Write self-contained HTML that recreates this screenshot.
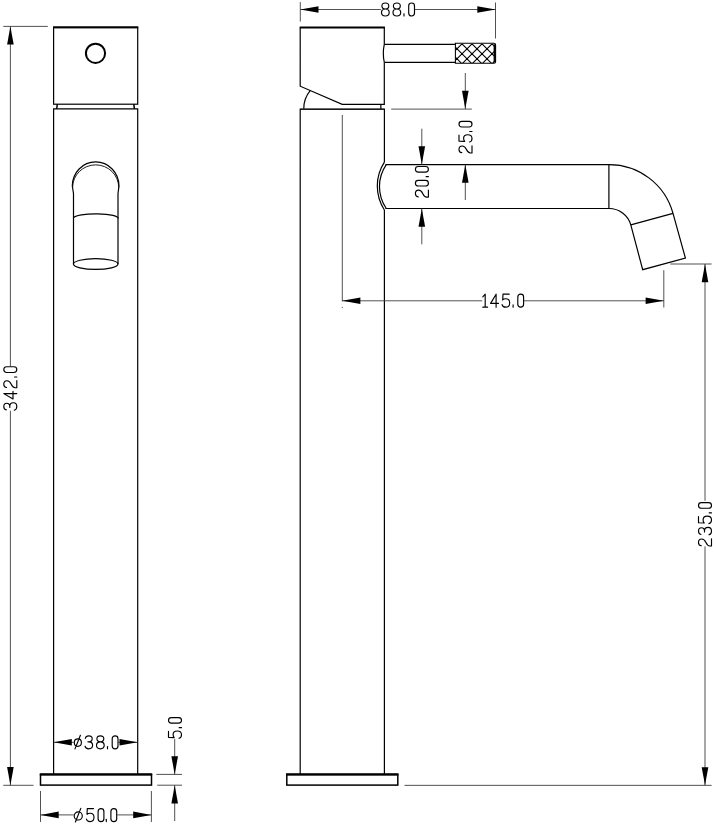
<!DOCTYPE html>
<html lang="en">
<head>
<meta charset="utf-8">
<title>Basin mixer dimension drawing</title>
<style>
html,body{margin:0;padding:0;background:#fff;}
body{width:716px;height:827px;overflow:hidden;font-family:"Liberation Sans",sans-serif;}
svg{display:block;}
.o{fill:none;stroke:#000;stroke-width:1.2;stroke-linejoin:miter;}
.ok{fill:none;stroke:#000;stroke-width:2.0;}
.b{fill:none;stroke:#000;stroke-width:1.5;}
.bt{fill:none;stroke:#000;stroke-width:2.3;}
.t{fill:none;stroke:#111;stroke-width:0.95;}
.h{fill:none;stroke:#000;stroke-width:1.15;}
.d{fill:none;stroke:#333;stroke-width:0.85;}
.lbl{font-family:"Liberation Sans",sans-serif;font-size:18px;fill:#000;fill-opacity:0;stroke:none;}
</style>
</head>
<body>
<svg width="716" height="827" viewBox="0 0 716 827" role="img" aria-label="Tall basin mixer technical drawing with dimensions 342.0, 235.0, 145.0, 88.0, 25.0, 20.0, 5.0, diameter 38.0 and diameter 50.0">
<rect x="0" y="0" width="716" height="827" fill="#fff"/>
<rect class="o" x="53.6" y="27.6" width="84.1" height="76.6"/>
<line class="ok" x1="53.00" y1="27.20" x2="138.30" y2="27.20"/>
<circle class="ok" cx="95.5" cy="53.3" r="9.6"/>
<line class="b" x1="57.30" y1="104.20" x2="56.70" y2="108.90"/>
<line class="b" x1="133.80" y1="104.20" x2="134.40" y2="108.90"/>
<path class="o" d="M53.6,773.9 L53.6,108.9 L137.7,108.9 L137.7,773.9"/>
<rect class="b" x="40.5" y="774.6" width="111.0" height="10.5"/>
<line class="bt" x1="39.80" y1="774.30" x2="152.20" y2="774.30"/>
<path class="o" d="M72.3,186 A23.35,24.1 0 0 1 119.0,186 L118,193.5 L118,264 M72.3,186 L73.5,193.5 L73.5,264"/>
<path class="t" d="M72.6,187.5 A23.0,22.6 0 0 1 118.7,187.5"/>
<path class="o" d="M73.5,217.8 A22.3,4.4 0 0 1 118,218.6"/>
<ellipse class="o" cx="95.7" cy="264.05" rx="22.3" ry="5.35"/>
<line class="d" x1="3.30" y1="26.40" x2="47.80" y2="26.40"/>
<line class="d" x1="3.30" y1="785.30" x2="33.50" y2="785.30"/>
<line class="d" x1="10.40" y1="26.40" x2="10.40" y2="366.20"/>
<line class="d" x1="10.40" y1="410.80" x2="10.40" y2="785.30"/>
<polygon points="10.40,26.40 13.70,44.60 7.10,44.60" fill="#000"/>
<polygon points="10.40,785.30 7.10,767.10 13.70,767.10" fill="#000"/>
<g transform="translate(17.40,410.80) rotate(-90) scale(0.9760,1)" fill="none" stroke="#000" stroke-width="1.15" stroke-linecap="round" stroke-linejoin="round"><path d="M0.3,2.5 C0.6,0.9 1.8,0 3.8,0 C5.9,0 7.2,1 7.2,2.95 C7.2,4.9 6,6 4,6 L2.9,6 M4,6 C6.2,6 7.6,7.3 7.6,9.5 C7.6,11.7 6.1,13 3.7,13 C1.6,13 0.3,12.1 0,10.4" transform="translate(0.60,-13.60)"/><path d="M5.5,13 L5.5,0 L0,9.2 L7.9,9.2" transform="translate(12.10,-13.60)"/><path d="M0.3,2.8 C0.5,0.9 1.8,0 3.7,0 C5.9,0 7.2,1.1 7.2,3.2 C7.2,5.3 6.1,6.3 3.8,7.3 C1.2,8.4 0,9.4 0,11.4 L0,13 L7.4,13" transform="translate(23.60,-13.60)"/><path d="M0,10.7 L0,13" transform="translate(34.60,-13.60)"/><path d="M0,2.9 C0,1 1.1,0 2.9,0 C4.7,0 5.8,1 5.8,2.9 L5.8,10.1 C5.8,12 4.7,13 2.9,13 C1.1,13 0,12 0,10.1 Z" transform="translate(39.30,-13.60)"/></g>
<line class="d" x1="53.60" y1="742.30" x2="73.70" y2="742.30"/>
<line class="d" x1="118.30" y1="742.30" x2="137.70" y2="742.30"/>
<polygon points="53.60,742.30 71.80,739.00 71.80,745.60" fill="#000"/>
<polygon points="137.70,742.30 119.50,745.60 119.50,739.00" fill="#000"/>
<g transform="translate(73.70,749.40)" fill="none" stroke="#000" stroke-width="1.15" stroke-linecap="round" stroke-linejoin="round"><path d="M0,6.8 C0,4.7 1.4,3 3.55,3 C5.7,3 7.1,4.7 7.1,6.8 C7.1,8.9 5.7,10.6 3.55,10.6 C1.4,10.6 0,8.9 0,6.8 Z M0.7,13.1 L6.1,-0.5" transform="translate(0.60,-13.60)"/><path d="M0.3,2.5 C0.6,0.9 1.8,0 3.8,0 C5.9,0 7.2,1 7.2,2.95 C7.2,4.9 6,6 4,6 L2.9,6 M4,6 C6.2,6 7.6,7.3 7.6,9.5 C7.6,11.7 6.1,13 3.7,13 C1.6,13 0.3,12.1 0,10.4" transform="translate(11.30,-13.60)"/><path d="M3.85,0 C6,0 7.3,1 7.3,2.95 C7.3,4.9 6,6 3.85,6 C1.7,6 0.4,4.9 0.4,2.95 C0.4,1 1.7,0 3.85,0 Z M3.85,6 C6.2,6 7.7,7.3 7.7,9.5 C7.7,11.7 6.2,13 3.85,13 C1.5,13 0,11.7 0,9.5 C0,7.3 1.5,6 3.85,6 Z" transform="translate(22.80,-13.60)"/><path d="M0,10.7 L0,13" transform="translate(33.80,-13.60)"/><path d="M0,2.9 C0,1 1.1,0 2.9,0 C4.7,0 5.8,1 5.8,2.9 L5.8,10.1 C5.8,12 4.7,13 2.9,13 C1.1,13 0,12 0,10.1 Z" transform="translate(38.50,-13.60)"/></g>
<line class="d" x1="40.50" y1="791.00" x2="40.50" y2="822.00"/>
<line class="d" x1="151.40" y1="791.00" x2="151.40" y2="822.00"/>
<line class="d" x1="40.50" y1="814.90" x2="73.60" y2="814.90"/>
<line class="d" x1="117.20" y1="814.90" x2="151.40" y2="814.90"/>
<polygon points="40.50,814.90 58.70,811.60 58.70,818.20" fill="#000"/>
<polygon points="151.40,814.90 133.20,818.20 133.20,811.60" fill="#000"/>
<g transform="translate(73.60,822.20)" fill="none" stroke="#000" stroke-width="1.15" stroke-linecap="round" stroke-linejoin="round"><path d="M0,7.3 C0,5.06 1.81,3.25 4.05,3.25 C6.29,3.25 8.1,5.06 8.1,7.3 C8.1,9.54 6.29,11.35 4.05,11.35 C1.81,11.35 0,9.54 0,7.3 Z M1.2,13.4 L6.6,-0.2" transform="translate(0.60,-13.60)"/><path d="M7.1,0 L0.9,0 L0.6,5.7 C1.3,4.95 2.4,4.6 3.8,4.6 C6.1,4.6 7.6,6.1 7.6,8.7 C7.6,11.4 6.1,13 3.7,13 C1.6,13 0.3,12.1 0,10.4" transform="translate(12.80,-13.60)"/><path d="M0,2.9 C0,1 1.1,0 2.9,0 C4.7,0 5.8,1 5.8,2.9 L5.8,10.1 C5.8,12 4.7,13 2.9,13 C1.1,13 0,12 0,10.1 Z" transform="translate(24.50,-13.60)"/><path d="M0,10.7 L0,13" transform="translate(32.70,-13.60)"/><path d="M0,2.9 C0,1 1.1,0 2.9,0 C4.7,0 5.8,1 5.8,2.9 L5.8,10.1 C5.8,12 4.7,13 2.9,13 C1.1,13 0,12 0,10.1 Z" transform="translate(37.30,-13.60)"/></g>
<line class="d" x1="156.40" y1="774.40" x2="182.00" y2="774.40"/>
<line class="d" x1="157.20" y1="785.20" x2="182.00" y2="785.20"/>
<line class="d" x1="174.70" y1="739.00" x2="174.70" y2="774.40"/>
<line class="d" x1="174.70" y1="785.20" x2="174.70" y2="821.00"/>
<polygon points="174.70,774.40 171.40,756.20 178.00,756.20" fill="#000"/>
<polygon points="174.70,785.20 178.00,803.40 171.40,803.40" fill="#000"/>
<g transform="translate(182.10,738.80) rotate(-90) scale(0.9600,1)" fill="none" stroke="#000" stroke-width="1.15" stroke-linecap="round" stroke-linejoin="round"><path d="M7.1,0 L0.9,0 L0.6,5.7 C1.3,4.95 2.4,4.6 3.8,4.6 C6.1,4.6 7.6,6.1 7.6,8.7 C7.6,11.4 6.1,13 3.7,13 C1.6,13 0.3,12.1 0,10.4" transform="translate(0.60,-13.60)"/><path d="M0,10.7 L0,13" transform="translate(11.60,-13.60)"/><path d="M0,2.9 C0,1 1.1,0 2.9,0 C4.7,0 5.8,1 5.8,2.9 L5.8,10.1 C5.8,12 4.7,13 2.9,13 C1.1,13 0,12 0,10.1 Z" transform="translate(16.30,-13.60)"/></g>
<path class="o" d="M384.3,27.6 L384.3,44.4 M384.3,62.4 L384.3,104.4 L342.2,104.4 L300.2,86.2 L300.2,27.6"/>
<line class="ok" x1="299.70" y1="27.50" x2="384.90" y2="27.50"/>
<path class="o" d="M310.2,90.6 A27.7,27.7 0 0 0 303.8,108.7"/>
<line class="o" x1="380.80" y1="104.40" x2="380.90" y2="109.00"/>
<path class="o" d="M384.3,44.4 L455.3,44.4 M384.3,62.4 L455.3,62.4"/>
<path class="o" d="M384.3,44.4 Q382.3,53.4 384.3,62.4"/>
<clipPath id="kc"><path d="M455.4,43.3 H494 Q495.6,43.3 495.6,44.9 V61.7 Q495.6,63.3 494,63.3 H455.4 Z"/></clipPath>
<g clip-path="url(#kc)"><path class="h" d="M422.00,43.8 L442.00,63.8 M422.00,43.8 L402.00,63.8 M432.00,43.8 L452.00,63.8 M432.00,43.8 L412.00,63.8 M442.00,43.8 L462.00,63.8 M442.00,43.8 L422.00,63.8 M452.00,43.8 L472.00,63.8 M452.00,43.8 L432.00,63.8 M462.00,43.8 L482.00,63.8 M462.00,43.8 L442.00,63.8 M472.00,43.8 L492.00,63.8 M472.00,43.8 L452.00,63.8 M482.00,43.8 L502.00,63.8 M482.00,43.8 L462.00,63.8 M492.00,43.8 L512.00,63.8 M492.00,43.8 L472.00,63.8 M502.00,43.8 L522.00,63.8 M502.00,43.8 L482.00,63.8 M512.00,43.8 L532.00,63.8 M512.00,43.8 L492.00,63.8 M522.00,43.8 L542.00,63.8 M522.00,43.8 L502.00,63.8 M532.00,43.8 L552.00,63.8 M532.00,43.8 L512.00,63.8"/></g>
<path class="o" style="stroke-width:1.05" d="M455.4,43.3 H494 Q495.6,43.3 495.6,44.9 V61.7 Q495.6,63.3 494,63.3 H455.4 Z"/>
<line class="ok" x1="494.60" y1="44.30" x2="494.60" y2="62.30"/>
<path class="o" d="M300.2,773.9 L300.2,109.1 L384.4,109.1 L384.4,162.2 M384.4,210.0 L384.4,773.9"/>
<line class="t" x1="300.20" y1="109.30" x2="384.40" y2="109.30"/>
<rect class="b" x="286.8" y="774.6" width="111.0" height="10.5"/>
<line class="bt" x1="286.10" y1="774.30" x2="398.50" y2="774.30"/>
<path class="o" d="M385.4,164.55 L608.9,164.55 A66.3,66.3 0 0 1 673.0,213.4 L685.4,258.0 L642.7,269.7 L630.8,224.8 A22.6,22.6 0 0 0 608.9,208.5 L385.4,208.5"/>
<line class="o" x1="608.90" y1="164.55" x2="608.90" y2="208.50"/>
<line class="o" x1="630.80" y1="224.80" x2="673.00" y2="213.40"/>
<path class="o" d="M384.4,162.2 A43.8,43.8 0 0 0 384.4,210.0"/>
<path class="o" d="M386.3,164.55 A38.7,38.7 0 0 0 386.3,208.5"/>
<line class="d" x1="300.30" y1="2.10" x2="300.30" y2="21.60"/>
<line class="d" x1="495.50" y1="2.50" x2="495.50" y2="38.50"/>
<line class="d" x1="300.30" y1="9.50" x2="380.90" y2="9.50"/>
<line class="d" x1="414.80" y1="9.50" x2="495.50" y2="9.50"/>
<polygon points="300.30,9.50 318.50,6.20 318.50,12.80" fill="#000"/>
<polygon points="495.50,9.50 477.30,12.80 477.30,6.20" fill="#000"/>
<g transform="translate(380.90,16.60)" fill="none" stroke="#000" stroke-width="1.15" stroke-linecap="round" stroke-linejoin="round"><path d="M3.85,0 C6,0 7.3,1 7.3,2.95 C7.3,4.9 6,6 3.85,6 C1.7,6 0.4,4.9 0.4,2.95 C0.4,1 1.7,0 3.85,0 Z M3.85,6 C6.2,6 7.7,7.3 7.7,9.5 C7.7,11.7 6.2,13 3.85,13 C1.5,13 0,11.7 0,9.5 C0,7.3 1.5,6 3.85,6 Z" transform="translate(0.60,-13.60)"/><path d="M3.85,0 C6,0 7.3,1 7.3,2.95 C7.3,4.9 6,6 3.85,6 C1.7,6 0.4,4.9 0.4,2.95 C0.4,1 1.7,0 3.85,0 Z M3.85,6 C6.2,6 7.7,7.3 7.7,9.5 C7.7,11.7 6.2,13 3.85,13 C1.5,13 0,11.7 0,9.5 C0,7.3 1.5,6 3.85,6 Z" transform="translate(12.10,-13.60)"/><path d="M0,10.7 L0,13" transform="translate(23.10,-13.60)"/><path d="M0,2.9 C0,1 1.1,0 2.9,0 C4.7,0 5.8,1 5.8,2.9 L5.8,10.1 C5.8,12 4.7,13 2.9,13 C1.1,13 0,12 0,10.1 Z" transform="translate(27.80,-13.60)"/></g>
<line class="d" x1="391.20" y1="109.10" x2="471.80" y2="109.10"/>
<line class="d" x1="465.30" y1="73.00" x2="465.30" y2="109.00"/>
<line class="d" x1="465.30" y1="164.55" x2="465.30" y2="200.00"/>
<polygon points="465.30,109.00 462.00,90.80 468.60,90.80" fill="#000"/>
<polygon points="465.30,164.55 468.60,182.75 462.00,182.75" fill="#000"/>
<g transform="translate(472.60,153.50) rotate(-90) scale(0.9550,1)" fill="none" stroke="#000" stroke-width="1.15" stroke-linecap="round" stroke-linejoin="round"><path d="M0.3,2.8 C0.5,0.9 1.8,0 3.7,0 C5.9,0 7.2,1.1 7.2,3.2 C7.2,5.3 6.1,6.3 3.8,7.3 C1.2,8.4 0,9.4 0,11.4 L0,13 L7.4,13" transform="translate(0.60,-13.60)"/><path d="M7.1,0 L0.9,0 L0.6,5.7 C1.3,4.95 2.4,4.6 3.8,4.6 C6.1,4.6 7.6,6.1 7.6,8.7 C7.6,11.4 6.1,13 3.7,13 C1.6,13 0.3,12.1 0,10.4" transform="translate(12.10,-13.60)"/><path d="M0,10.7 L0,13" transform="translate(23.10,-13.60)"/><path d="M0,2.9 C0,1 1.1,0 2.9,0 C4.7,0 5.8,1 5.8,2.9 L5.8,10.1 C5.8,12 4.7,13 2.9,13 C1.1,13 0,12 0,10.1 Z" transform="translate(27.80,-13.60)"/></g>
<line class="d" x1="421.80" y1="128.70" x2="421.80" y2="164.55"/>
<line class="d" x1="421.80" y1="208.50" x2="421.80" y2="244.30"/>
<polygon points="421.80,164.55 418.50,146.35 425.10,146.35" fill="#000"/>
<polygon points="421.80,208.50 425.10,226.70 418.50,226.70" fill="#000"/>
<g transform="translate(429.00,197.70) rotate(-90) scale(0.9650,1)" fill="none" stroke="#000" stroke-width="1.15" stroke-linecap="round" stroke-linejoin="round"><path d="M0.3,2.8 C0.5,0.9 1.8,0 3.7,0 C5.9,0 7.2,1.1 7.2,3.2 C7.2,5.3 6.1,6.3 3.8,7.3 C1.2,8.4 0,9.4 0,11.4 L0,13 L7.4,13" transform="translate(0.60,-13.60)"/><path d="M0,2.9 C0,1 1.1,0 2.9,0 C4.7,0 5.8,1 5.8,2.9 L5.8,10.1 C5.8,12 4.7,13 2.9,13 C1.1,13 0,12 0,10.1 Z" transform="translate(12.10,-13.60)"/><path d="M0,10.7 L0,13" transform="translate(21.80,-13.60)"/><path d="M0,2.9 C0,1 1.1,0 2.9,0 C4.7,0 5.8,1 5.8,2.9 L5.8,10.1 C5.8,12 4.7,13 2.9,13 C1.1,13 0,12 0,10.1 Z" transform="translate(26.50,-13.60)"/></g>
<line class="d" x1="342.30" y1="115.00" x2="342.30" y2="301.30"/>
<line class="d" x1="342.30" y1="306.90" x2="342.30" y2="307.90"/>
<line class="d" x1="663.80" y1="270.20" x2="663.80" y2="307.50"/>
<line class="d" x1="342.20" y1="300.80" x2="482.20" y2="300.80"/>
<line class="d" x1="523.80" y1="300.80" x2="663.80" y2="300.80"/>
<polygon points="342.20,300.80 360.40,297.50 360.40,304.10" fill="#000"/>
<polygon points="663.80,300.80 645.60,304.10 645.60,297.50" fill="#000"/>
<g transform="translate(482.20,307.80)" fill="none" stroke="#000" stroke-width="1.15" stroke-linecap="round" stroke-linejoin="round"><path d="M0,2.7 L2.4,0 L2.4,13 M0,13 L4.8,13" transform="translate(0.60,-13.60)"/><path d="M5.5,13 L5.5,0 L0,9.2 L7.9,9.2" transform="translate(8.40,-13.60)"/><path d="M7.1,0 L0.9,0 L0.6,5.7 C1.3,4.95 2.4,4.6 3.8,4.6 C6.1,4.6 7.6,6.1 7.6,8.7 C7.6,11.4 6.1,13 3.7,13 C1.6,13 0.3,12.1 0,10.4" transform="translate(19.90,-13.60)"/><path d="M0,10.7 L0,13" transform="translate(30.90,-13.60)"/><path d="M0,2.9 C0,1 1.1,0 2.9,0 C4.7,0 5.8,1 5.8,2.9 L5.8,10.1 C5.8,12 4.7,13 2.9,13 C1.1,13 0,12 0,10.1 Z" transform="translate(35.60,-13.60)"/></g>
<line class="d" x1="670.30" y1="264.00" x2="711.60" y2="264.00"/>
<line class="d" x1="404.50" y1="785.35" x2="711.60" y2="785.35"/>
<line class="d" x1="705.00" y1="264.00" x2="705.00" y2="500.80"/>
<line class="d" x1="705.00" y1="546.40" x2="705.00" y2="785.35"/>
<polygon points="705.00,264.00 708.30,282.20 701.70,282.20" fill="#000"/>
<polygon points="705.00,785.35 701.70,767.15 708.30,767.15" fill="#000"/>
<g transform="translate(712.10,546.60) rotate(-90) scale(0.9750,1)" fill="none" stroke="#000" stroke-width="1.15" stroke-linecap="round" stroke-linejoin="round"><path d="M0.3,2.8 C0.5,0.9 1.8,0 3.7,0 C5.9,0 7.2,1.1 7.2,3.2 C7.2,5.3 6.1,6.3 3.8,7.3 C1.2,8.4 0,9.4 0,11.4 L0,13 L7.4,13" transform="translate(0.60,-13.60)"/><path d="M0.3,2.5 C0.6,0.9 1.8,0 3.8,0 C5.9,0 7.2,1 7.2,2.95 C7.2,4.9 6,6 4,6 L2.9,6 M4,6 C6.2,6 7.6,7.3 7.6,9.5 C7.6,11.7 6.1,13 3.7,13 C1.6,13 0.3,12.1 0,10.4" transform="translate(12.10,-13.60)"/><path d="M7.1,0 L0.9,0 L0.6,5.7 C1.3,4.95 2.4,4.6 3.8,4.6 C6.1,4.6 7.6,6.1 7.6,8.7 C7.6,11.4 6.1,13 3.7,13 C1.6,13 0.3,12.1 0,10.4" transform="translate(23.60,-13.60)"/><path d="M0,10.7 L0,13" transform="translate(34.60,-13.60)"/><path d="M0,2.9 C0,1 1.1,0 2.9,0 C4.7,0 5.8,1 5.8,2.9 L5.8,10.1 C5.8,12 4.7,13 2.9,13 C1.1,13 0,12 0,10.1 Z" transform="translate(39.30,-13.60)"/></g>
<text class="lbl" x="17.4" y="410.8" transform="rotate(-90 17.4 410.8)">342.0</text>
<text class="lbl" x="73.7" y="749.4">ø38.0</text>
<text class="lbl" x="73.6" y="822.2">ø50.0</text>
<text class="lbl" x="182.1" y="738.8" transform="rotate(-90 182.1 738.8)">5.0</text>
<text class="lbl" x="380.9" y="16.6">88.0</text>
<text class="lbl" x="472.6" y="153.5" transform="rotate(-90 472.6 153.5)">25.0</text>
<text class="lbl" x="429.0" y="197.7" transform="rotate(-90 429.0 197.7)">20.0</text>
<text class="lbl" x="482.2" y="307.8">145.0</text>
<text class="lbl" x="712.1" y="546.6" transform="rotate(-90 712.1 546.6)">235.0</text>
</svg>
</body>
</html>
